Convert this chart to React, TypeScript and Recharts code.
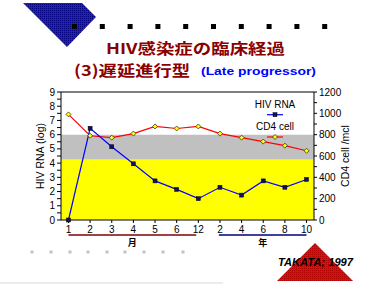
import { ComposedChart, Line, XAxis, YAxis, ReferenceArea, ReferenceLine, Legend, Label } from "recharts";

// x categories: months 1-12, then years 2-10
const periods = ["1", "2", "3", "4", "5", "6", "12", "2", "4", "6", "8", "10"];
const hivRna = [0, 6.45, 5.15, 3.95, 2.75, 2.15, 1.5, 2.3, 1.75, 2.75, 2.3, 2.85];
const cd4Cell = [990, 790, 772, 810, 877, 858, 877, 810, 772, 735, 697, 649];

const rnaTicks = [0, 0.5, 1, 1.5, 2, 2.5, 3, 3.5, 4, 4.5, 5, 5.5, 6, 6.5, 7, 7.5, 8, 8.5, 9];
const cd4Ticks = [0, 100, 200, 300, 400, 500, 600, 700, 800, 900, 1000, 1100, 1200];
const periodTicks = [0, 1, 2, 3, 4, 5, 6, 7, 8, 9, 10, 11];

const yellowBand = [0, 4.25];
const grayBand = [4.25, 6];

const unitSpans = [
  { label: "月", from: 0, to: 5.9, color: "#800000" },
  { label: "年", from: 6.95, to: 11, color: "#000080" },
];

const seriesNames = ["HIV RNA", "CD4 cell"];

const data = periods.map((p, i) => ({ i, period: p, rna: hivRna[i], cd4: cd4Cell[i] }));

const FONT = "'Liberation Sans', Arial, sans-serif";
const CJK = "'Noto Sans CJK JP', 'Liberation Sans', sans-serif";

const SquareDot = (props: any) => {
  const { cx, cy, index } = props;
  if (cx == null || cy == null) return null;
  return <rect key={`sq-${index}`} x={cx - 2} y={cy - 2} width={4} height={4} fill="#101060" stroke="#000" strokeWidth={0.5} />;
};

const DiamondDot = (props: any) => {
  const { cx, cy, index } = props;
  if (cx == null || cy == null) return null;
  return (
    <polygon
      key={`dm-${index}`}
      points={`${cx},${cy - 2.5} ${cx + 2.5},${cy} ${cx},${cy + 2.5} ${cx - 2.5},${cy}`}
      fill="#ffff00"
      stroke="#333"
      strokeWidth={0.8}
    />
  );
};

const axisTitle = (text: string, dx: number) => (props: any) => {
  const vb = props.viewBox;
  const x = vb.x + dx;
  const y = vb.y + vb.height / 2;
  return (
    <text
      x={x}
      y={y}
      transform={`rotate(-90 ${x} ${y})`}
      textAnchor="middle"
      dominantBaseline="central"
      fontSize={10.5}
      fontFamily={FONT}
      fill="#000"
    >
      {text}
    </text>
  );
};

const LegendBox = () => (
  <svg width={50} height={46} style={{ display: "block" }}>
    <text x={25} y={7} textAnchor="middle" dominantBaseline="central" fontSize={10} fontFamily={FONT}>
      {seriesNames[0]}
    </text>
    <line x1={17} x2={33} y1={17.7} y2={17.7} stroke="#0000ff" strokeWidth={1.2} />
    <rect x={23} y={15.7} width={4} height={4} fill="#101060" stroke="#000" strokeWidth={0.5} />
    <text x={25} y={29} textAnchor="middle" dominantBaseline="central" fontSize={10} fontFamily={FONT}>
      {seriesNames[1]}
    </text>
    <line x1={17} x2={33} y1={40} y2={40} stroke="#ff0000" strokeWidth={1.2} />
    <polygon points="25,37.5 27.5,40 25,42.5 22.5,40" fill="#ffff00" stroke="#333" strokeWidth={0.8} />
  </svg>
);

const blackSquares = [74.5, 102.3, 130.1, 157.9, 185.7, 213.5, 241.3, 269.1, 296.9, 324.7];
const grayDots = [32, 51, 70, 88, 107, 125, 144, 163, 183];

const Decorations = () => (
  <svg width={385} height={286} style={{ position: "absolute", left: 0, top: 0 }}>
    <defs>
      <pattern id="blueDither" width={2} height={2} patternUnits="userSpaceOnUse">
        <rect width={2} height={2} fill="#1a1aee" />
        <rect width={1} height={1} fill="#000080" />
      </pattern>
      <pattern id="redDither" width={2} height={2} patternUnits="userSpaceOnUse">
        <rect width={2} height={2} fill="#ff0000" />
        <rect width={1} height={1} fill="#b00000" />
      </pattern>
    </defs>
    <polygon points="23,3 82,3 96,17 67,47" fill="url(#blueDither)" />
    {blackSquares.map((x) => (
      <rect key={x} x={x - 2.5} y={24} width={5} height={5} fill="#000" />
    ))}
    <text x={106} y={54} fontSize={15} fontWeight="bold" fontFamily={CJK} fill="#8b0000" textLength={179} lengthAdjust="spacingAndGlyphs">
      HIV感染症の臨床経過
    </text>
    <text x={74} y={76} fontSize={15} fontWeight="bold" fontFamily={CJK} fill="#8b0000" textLength={116} lengthAdjust="spacingAndGlyphs">
      (3)遅延進行型
    </text>
    <text x={201} y={74.5} fontSize={11} fontWeight="bold" fontFamily={FONT} fill="#0000ff" textLength={115} lengthAdjust="spacingAndGlyphs">
      (Late progressor)
    </text>
    {grayDots.map((x) => (
      <rect key={x} x={x - 1.5} y={250.5} width={3} height={3} fill="#b4c8cc" />
    ))}
    <rect x={0} y={282} width={223} height={2} fill="#ececec" />
    <polygon points="315,243 353,281 277,281" fill="url(#redDither)" />
    <text x={278} y={266} fontSize={11} fontWeight="bold" fontStyle="italic" fontFamily={FONT} fill="#000" textLength={75} lengthAdjust="spacingAndGlyphs">
      TAKATA; 1997
    </text>
  </svg>
);

const App = () => {
  const tickStyle = { fontSize: 10, fill: "#000", fontFamily: FONT };
  return (
    <div style={{ position: "absolute", left: 0, top: 0, width: 385, height: 286, background: "#fff", overflow: "hidden" }}>
      <Decorations />
      <div style={{ position: "absolute", left: 0, top: 0 }}>
        <ComposedChart width={385} height={286} data={data} margin={{ top: 92, right: 0, bottom: 36, left: 0 }}>
          <ReferenceArea yAxisId="rna" y1={yellowBand[0]} y2={yellowBand[1]} fill="#ffff00" fillOpacity={1} stroke="none" />
          <ReferenceArea yAxisId="rna" y1={grayBand[0]} y2={grayBand[1]} fill="#c0c0c0" fillOpacity={1} stroke="none" />
          <ReferenceLine yAxisId="rna" y={9} stroke="#000" strokeWidth={1} />
          {unitSpans.map((s) => (
            <ReferenceLine
              key={s.label}
              yAxisId="rna"
              ifOverflow="visible"
              segment={[
                { x: s.from, y: -1.05 },
                { x: s.to, y: -1.05 },
              ]}
              stroke={s.color}
              strokeWidth={1.5}
            >
              <Label value={s.label} position="bottom" offset={5} fontSize={9} fontWeight="bold" fontFamily={CJK} fill="#000" />
            </ReferenceLine>
          ))}
          <XAxis
            dataKey="i"
            type="number"
            domain={[-0.345, 11.345]}
            ticks={periodTicks}
            tickFormatter={(v) => periods[v] ?? ""}
            interval={0}
            height={30}
            tickSize={3}
            tickMargin={3}
            stroke="#000"
            tick={tickStyle}
          />
          <YAxis
            yAxisId="rna"
            orientation="left"
            domain={[0, 9]}
            ticks={rnaTicks}
            interval={0}
            width={61}
            tickSize={4}
            tickMargin={2}
            stroke="#000"
            tick={tickStyle}
            tickFormatter={(v) => (Number.isInteger(v) ? String(v) : "")}
          >
            <Label content={axisTitle("HIV RNA (log)", 40)} />
          </YAxis>
          <YAxis
            yAxisId="cd4"
            orientation="right"
            domain={[0, 1200]}
            ticks={cd4Ticks}
            interval={0}
            width={71}
            tickSize={3}
            tickMargin={2}
            stroke="#000"
            tick={tickStyle}
            tickFormatter={(v) => (v % 200 === 0 ? String(v) : "")}
          >
            <Label content={axisTitle("CD4 cell /mcl", 31)} />
          </YAxis>
          <Legend
            layout="horizontal"
            verticalAlign="middle"
            align="center"
            content={<LegendBox />}
            wrapperStyle={{ position: "absolute", left: 250, top: 97, width: 50, height: 46 }}
          />
          <Line
            yAxisId="cd4"
            dataKey="cd4"
            name={seriesNames[1]}
            stroke="#ff0000"
            strokeWidth={1.2}
            dot={DiamondDot}
            activeDot={false}
            isAnimationActive={false}
            type="linear"
          />
          <Line
            yAxisId="rna"
            dataKey="rna"
            name={seriesNames[0]}
            stroke="#0000ff"
            strokeWidth={1.2}
            dot={SquareDot}
            activeDot={false}
            isAnimationActive={false}
            type="linear"
          />
        </ComposedChart>
      </div>
    </div>
  );
};

export default App;
